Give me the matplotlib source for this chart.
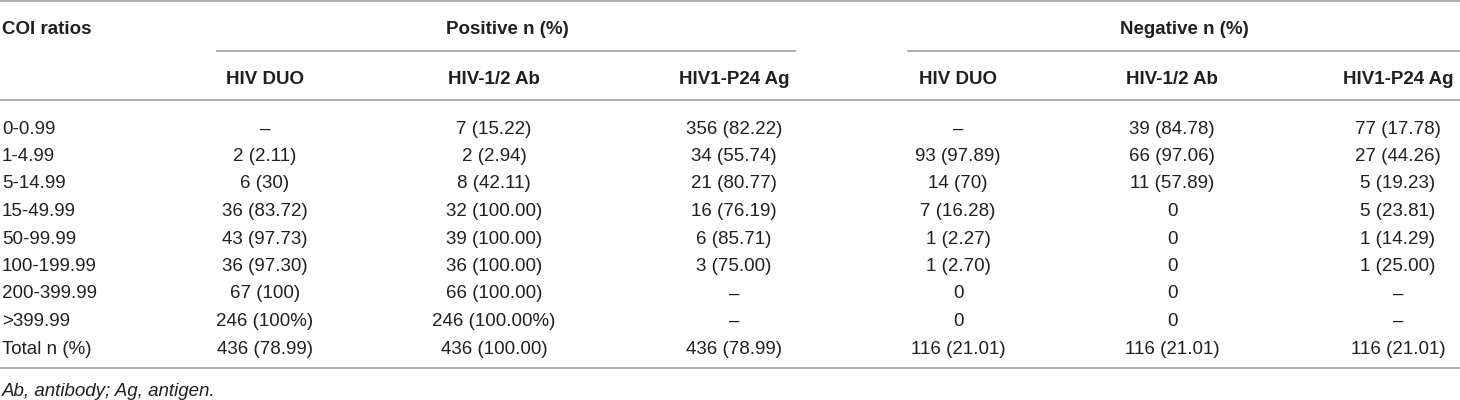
import matplotlib
matplotlib.use("Agg")
import matplotlib.pyplot as plt

# table contents
coi_ratios = ["0-0.99", "1-4.99", "5-14.99", "15-49.99", "50-99.99",
              "100-199.99", "200-399.99", ">399.99", "Total n (%)"]
groups = ["Positive n (%)", "Negative n (%)"]
assays = ["HIV DUO", "HIV-1/2 Ab", "HIV1-P24 Ag"]

pos_duo = ["–", "2 (2.11)", "6 (30)", "36 (83.72)", "43 (97.73)", "36 (97.30)",
           "67 (100)", "246 (100%)", "436 (78.99)"]
pos_ab = ["7 (15.22)", "2 (2.94)", "8 (42.11)", "32 (100.00)", "39 (100.00)",
          "36 (100.00)", "66 (100.00)", "246 (100.00%)", "436 (100.00)"]
pos_ag = ["356 (82.22)", "34 (55.74)", "21 (80.77)", "16 (76.19)", "6 (85.71)",
          "3 (75.00)", "–", "–", "436 (78.99)"]
neg_duo = ["–", "93 (97.89)", "14 (70)", "7 (16.28)", "1 (2.27)", "1 (2.70)",
           "0", "0", "116 (21.01)"]
neg_ab = ["39 (84.78)", "66 (97.06)", "11 (57.89)", "0", "0", "0",
          "0", "0", "116 (21.01)"]
neg_ag = ["77 (17.78)", "27 (44.26)", "5 (19.23)", "5 (23.81)", "1 (14.29)",
          "1 (25.00)", "–", "–", "116 (21.01)"]
footnote = "Ab, antibody; Ag, antigen."

columns = [pos_duo, pos_ab, pos_ag, neg_duo, neg_ab, neg_ag]

# layout in pixels (figure is 1460 x 400)
W, H = 1460, 400
col_x = [265, 494, 734, 958, 1172, 1398]
group_x = [507, 1184]
group_lines = [(217, 795), (908, 1460)]
row_y0, row_dy = 127, 27.5
txt = "#231f20"
rule = "#a0a0a0"
fs = 13.5

plt.rcParams["font.family"] = ["Liberation Sans", "DejaVu Sans"]
fig = plt.figure(figsize=(W / 100, H / 100), dpi=100)
ax = fig.add_axes([0, 0, 1, 1])
ax.set_xlim(0, W)
ax.set_ylim(H, 0)
ax.axis("off")

# horizontal rules
for y in [1, 100, 368]:
    ax.plot([0, W], [y, y], color=rule, lw=1.2)
for (x0, x1) in group_lines:
    ax.plot([x0, x1], [51, 51], color=rule, lw=1.2)

# header
ax.text(2, 28, "COI ratios", fontsize=fs, fontweight="bold", color=txt,
        ha="left", va="center_baseline")
for gx, g in zip(group_x, groups):
    ax.text(gx, 28, g, fontsize=fs, fontweight="bold", color=txt,
            ha="center", va="center_baseline")
for i, cx in enumerate(col_x):
    ax.text(cx, 77, assays[i % 3], fontsize=fs, fontweight="bold", color=txt,
            ha="center", va="center_baseline")

# body
for r, label in enumerate(coi_ratios):
    y = row_y0 + r * row_dy
    ax.text(2, y, label, fontsize=fs, color=txt, ha="left", va="center_baseline")
    for cx, col in zip(col_x, columns):
        ax.text(cx, y, col[r], fontsize=fs, color=txt, ha="center",
                va="center_baseline")

ax.text(2, 389, footnote, fontsize=fs, style="italic", color=txt,
        ha="left", va="center_baseline")

fig.savefig("out.png", dpi=100)
